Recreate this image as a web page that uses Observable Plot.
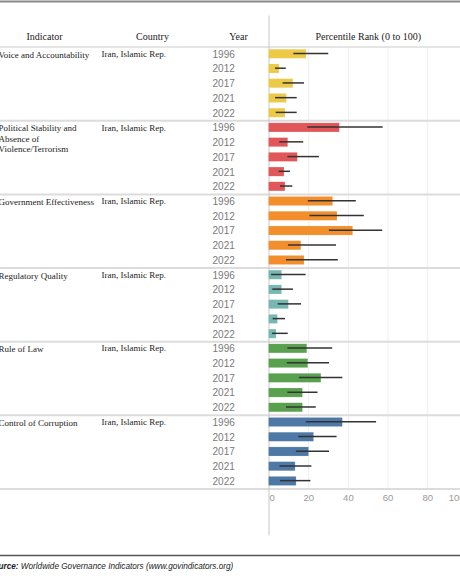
<!DOCTYPE html>
<html>
<head>
<meta charset="utf-8">
<script src="https://cdn.jsdelivr.net/npm/d3@7"></script>
<script src="https://cdn.jsdelivr.net/npm/@observablehq/plot@0.6"></script>
<style>
  html, body { margin: 0; padding: 0; background: #fff; width: 460px; height: 576px; overflow: hidden; }
  #chart { position: relative; width: 460px; overflow: hidden; }
  #source { position: relative; margin-left: -12px; height: 18px; line-height: 18px; white-space: nowrap;
            font-family: "Liberation Sans", Arial, sans-serif; font-size: 8.2px; font-style: italic; color: #222; }
  #source b { font-weight: bold; }
</style>
</head>
<body>
<div id="chart"></div>
<div id="source"><b>Source:</b> Worldwide Governance Indicators (www.govindicators.org)</div>
<script>
const indicators = [
  "Voice and Accountability",
  "Political Stability and Absence of Violence/Terrorism",
  "Government Effectiveness",
  "Regulatory Quality",
  "Rule of Law",
  "Control of Corruption"
];
const indicatorLabels = [
  "Voice and Accountability",
  "Political Stability and\nAbsence of\nViolence/Terrorism",
  "Government Effectiveness",
  "Regulatory Quality",
  "Rule of Law",
  "Control of Corruption"
];
const country = "Iran, Islamic Rep.";
const years = [1996, 2012, 2017, 2021, 2022];
const colors = ["#edc948", "#e15759", "#f28e2b", "#76b7b2", "#59a14f", "#4e79a7"];

// Percentile rank and 90% confidence interval bounds, per indicator, by year
const rankVoice      = [18.9, 5.3, 12.3, 9.0, 8.3];
const lowerVoice     = [12.5, 3.3, 7.1, 3.3, 3.6];
const upperVoice     = [30.1, 8.7, 17.9, 14.2, 14.2];
const rankStability  = [35.7, 9.7, 14.5, 7.8, 8.3];
const lowerStability = [19.5, 5.4, 9.5, 5.1, 5.8];
const upperStability = [57.5, 17.5, 25.4, 10.8, 12.0];
const rankGovEff     = [32.3, 34.5, 42.4, 16.3, 17.9];
const lowerGovEff    = [19.8, 20.6, 30.4, 9.8, 8.8];
const upperGovEff    = [44.0, 48.0, 57.3, 34.0, 34.9];
const rankRegQual    = [6.6, 6.6, 10.0, 4.5, 3.8];
const lowerRegQual   = [1.3, 1.9, 4.6, 2.1, 1.8];
const upperRegQual   = [18.7, 12.3, 16.4, 8.3, 9.7];
const rankRuleLaw    = [19.3, 19.8, 26.4, 17.1, 17.1];
const lowerRuleLaw   = [9.5, 9.2, 15.3, 9.5, 8.8];
const upperRuleLaw   = [32.1, 30.5, 37.2, 24.7, 23.8];
const rankCorruption = [37.2, 22.7, 20.2, 13.4, 13.9];
const lowerCorruption= [18.8, 15.0, 13.8, 5.5, 5.8];
const upperCorruption= [54.2, 34.3, 30.5, 21.6, 21.1];

const xTicks = [0, 20, 40, 60, 80, 100];

const ranks  = [rankVoice, rankStability, rankGovEff, rankRegQual, rankRuleLaw, rankCorruption];
const lowers = [lowerVoice, lowerStability, lowerGovEff, lowerRegQual, lowerRuleLaw, lowerCorruption];
const uppers = [upperVoice, upperStability, upperGovEff, upperRegQual, upperRuleLaw, upperCorruption];

const rows = indicators.flatMap((ind, i) => years.map((year, j) => ({
  indicator: ind,
  label: indicatorLabels[i],
  year,
  key: `${i}|${year}`,
  rank: ranks[i][j],
  lower: lowers[i][j],
  upper: uppers[i][j],
  first: j === 0,
  last: j === years.length - 1
})));

const W = 480, H = 558;
const mL = 268.5, mR = 13, mT = 46.6, mB = 69.5;
const step = (H - mT - mB) / rows.length;

const serif = "'Liberation Serif', 'Times New Roman', serif";
const sans = "'Liberation Sans', Arial, sans-serif";

const plot = Plot.plot({
  width: W,
  height: H,
  marginLeft: mL,
  marginRight: mR,
  marginTop: mT,
  marginBottom: mB,
  style: { maxWidth: "none", background: "#fff", overflow: "hidden" },
  x: { domain: [0, 100], axis: null },
  y: { type: "band", domain: rows.map(d => d.key), padding: 0, round: false, axis: null },
  color: { domain: indicators, range: colors },
  marks: [
    // top border
    Plot.frame({ anchor: "top", stroke: "#8a8a8a", strokeWidth: 2, insetTop: -(mT - 1), insetLeft: -mL - 5, insetRight: -mR - 5 }),
    // bottom border
    Plot.frame({ anchor: "bottom", stroke: "#555", strokeWidth: 1.5, insetBottom: -(555 - (H - mB)), insetLeft: -mL - 5, insetRight: -mR - 5 }),
    // gridlines
    Plot.ruleX(xTicks.slice(1), { stroke: "#eeeeee", strokeWidth: 1 }),
    // header separator
    Plot.ruleY(rows.filter(d => d.key === rows[0].key), { y: "key", dy: -step / 2, stroke: "#dcdcdc", strokeWidth: 1.5, insetLeft: -mL - 5, insetRight: -mR - 5 }),
    // group separators
    Plot.ruleY(rows.filter(d => d.last), { y: "key", dy: step / 2, stroke: "#dcdcdc", strokeWidth: 2, insetLeft: -mL - 5, insetRight: -mR - 5 }),
    // zero line
    Plot.ruleX([0], { stroke: "#c6c6c6", strokeWidth: 1, insetTop: -31, insetBottom: -47 }),
    // bars
    Plot.barX(rows, { x: "rank", y: "key", fill: "indicator", insetTop: 2.6, insetBottom: 3.0, stroke: "#fff", strokeOpacity: 0.35, strokeWidth: 0.5 }),
    // confidence intervals
    Plot.ruleY(rows, { y: "key", x1: "lower", x2: "upper", stroke: "#333", strokeWidth: 1.5, dy: -1 }),
    // year labels
    Plot.text(rows, { y: "key", text: d => String(d.year), frameAnchor: "left", dx: -34.2, textAnchor: "end", fill: "#7a7a7a", fontSize: 10, fontFamily: sans }),
    // indicator labels
    Plot.text(rows.filter(d => d.first), { y: "key", text: "label", frameAnchor: "left", dx: -mL - 2, dy: -4, textAnchor: "start", lineAnchor: "top", lineHeight: 1.15, fill: "#222", fontSize: 9, fontFamily: serif }),
    // country labels
    Plot.text(rows.filter(d => d.first), { y: "key", text: () => country, frameAnchor: "left", dx: 101 - mL, dy: -4, textAnchor: "start", lineAnchor: "top", fill: "#222", fontSize: 9, fontFamily: serif }),
    // headers
    Plot.text(["Indicator"], { text: d => d, frameAnchor: "top-left", dx: 44 - mL, dy: -14.6, textAnchor: "middle", fill: "#222", fontSize: 10, fontFamily: serif }),
    Plot.text(["Country"], { text: d => d, frameAnchor: "top-left", dx: 152 - mL, dy: -14.6, textAnchor: "middle", fill: "#222", fontSize: 10, fontFamily: serif }),
    Plot.text(["Year"], { text: d => d, frameAnchor: "top-left", dx: 238 - mL, dy: -14.6, textAnchor: "middle", fill: "#222", fontSize: 10, fontFamily: serif }),
    Plot.text(["Percentile Rank (0 to 100)"], { text: d => d, frameAnchor: "top", dy: -14.6, textAnchor: "middle", fill: "#222", fontSize: 10, fontFamily: serif }),
    // x tick labels
    Plot.text(xTicks.filter(t => t === 0), { x: d => d, text: d => String(d), frameAnchor: "bottom", dy: 11.5, dx: 0.5, textAnchor: "start", fill: "#9a9a9a", fontSize: 9.5, fontFamily: sans }),
    Plot.text(xTicks.filter(t => t !== 0 && t !== 100), { x: d => d, text: d => String(d), frameAnchor: "bottom", dy: 11.5, textAnchor: "middle", fill: "#9a9a9a", fontSize: 9.5, fontFamily: sans }),
    Plot.text(xTicks.filter(t => t === 100), { x: d => d, text: d => String(d), frameAnchor: "bottom", dy: 11.5, dx: -3, textAnchor: "end", fill: "#9a9a9a", fontSize: 9.5, fontFamily: sans })
  ]
});
document.getElementById("chart").appendChild(plot);
</script>
</body>
</html>
